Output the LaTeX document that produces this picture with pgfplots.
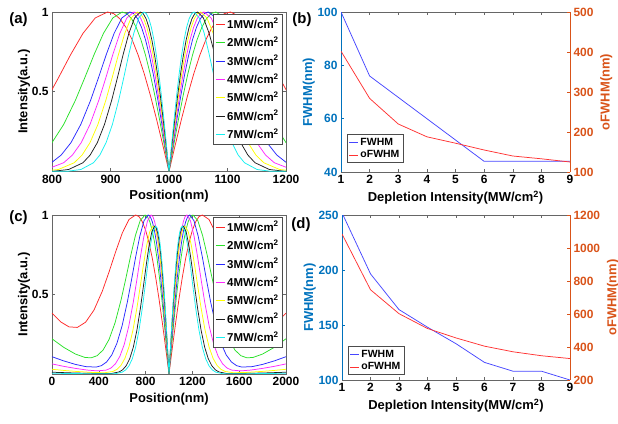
\documentclass[border=0pt]{standalone}
\usepackage{fontspec}
\setmainfont{Liberation Sans}
\usepackage{pgfplots}
\usepackage{pgfplotstable}
\pgfplotsset{compat=1.18}
\definecolor{mblue}{RGB}{0,114,189}
\definecolor{morange}{RGB}{217,83,25}
\definecolor{cR}{RGB}{255,40,40}
\definecolor{cG}{RGB}{40,225,40}
\definecolor{cB}{RGB}{40,40,255}
\definecolor{cM}{RGB}{255,40,255}
\definecolor{cY}{RGB}{255,255,0}
\definecolor{cK}{RGB}{30,30,30}
\definecolor{cC}{RGB}{20,240,240}
\definecolor{lB}{RGB}{70,70,255}
\definecolor{lR}{RGB}{255,50,50}
\pgfplotsset{
  base/.style={scale only axis, anchor=south west,
    axis line style={black!60, line width=0.6pt},
    tick style={black!60, line width=0.5pt},
    major tick length=3bp, tick align=inside,
    tick label style={font=\fontsize{12}{12}\selectfont\bfseries},
    label style={font=\fontsize{13}{13}\selectfont\bfseries},
    /pgf/number format/assume math mode=true,
    /pgf/number format/1000 sep={},
    legend cell align=left,
    legend style={font=\fontsize{10.5}{11}\selectfont\bfseries, draw=black!70, line width=0.6pt, inner sep=1.5pt, row sep=0pt},
    legend image code/.code={\draw[mark repeat=2,mark phase=2,##1] plot coordinates {(0bp,0bp) (9bp,0bp)};},
    every axis plot/.append style={line width=0.75pt},
  },
  pa/.style={base, ymin=0, ymax=1, ytick={0.5,1}, yticklabels={0.5,1},
    ylabel={Intensity(a.u.)}, xlabel={Position(nm)}, ylabel shift=-5bp,
    legend style={at={(0.987,0.987)}, anchor=north east,
      font=\fontsize{11.5}{12}\selectfont\bfseries, row sep=3pt, inner sep=2pt}},
}
\pgfplotstableread{
y R G B M Y K C
0.0000 475 600 665 700 730 755 785
0.0022 580 680 732 760 784 804 828
0.0126 632.5 720 765.5 790 811 828.5 849.5
0.0550 685 760 799 820 838 853 871
0.1033 711.25 780 815.75 835 851.5 865.25 881.75
0.1811 737.5 800 832.5 850 865 877.5 892.5
0.2952 763.75 820 849.25 865 878.5 889.75 903.25
0.4463 790 840 866 880 892 902 914
0.5873 811 856 879.4 892 902.8 911.8 922.6
0.7335 832 872 892.8 904 913.6 921.6 931.2
0.8663 853 888 906.2 916 924.4 931.4 939.8
0.9630 874 904 919.6 928 935.2 941.2 948.4
1.0000 895 920 933 940 946 951 957
0.9897 905.5 928 939.7 946 951.4 955.9 961.3
0.9577 916 936 946.4 952 956.8 960.8 965.6
0.9033 926.5 944 953.1 958 962.2 965.7 969.9
0.8263 937 952 959.8 964 967.6 970.6 974.2
0.7275 947.5 960 966.5 970 973 975.5 978.5
0.6088 958 968 973.2 976 978.4 980.4 982.8
0.4729 968.5 976 979.9 982 983.8 985.3 987.1
0.3232 979 984 986.6 988 989.2 990.2 991.4
0.1640 989.5 992 993.3 994 994.6 995.1 995.7
0 1000 1000 1000 1000 1000 1000 1000
0.1640 1010.5 1008 1006.7 1006 1005.4 1004.9 1004.3
0.3232 1021 1016 1013.4 1012 1010.8 1009.8 1008.6
0.4729 1031.5 1024 1020.1 1018 1016.2 1014.7 1012.9
0.6088 1042 1032 1026.8 1024 1021.6 1019.6 1017.2
0.7275 1052.5 1040 1033.5 1030 1027 1024.5 1021.5
0.8263 1063 1048 1040.2 1036 1032.4 1029.4 1025.8
0.9033 1073.5 1056 1046.9 1042 1037.8 1034.3 1030.1
0.9577 1084 1064 1053.6 1048 1043.2 1039.2 1034.4
0.9897 1094.5 1072 1060.3 1054 1048.6 1044.1 1038.7
1.0000 1105 1080 1067 1060 1054 1049 1043
0.9630 1126 1096 1080.4 1072 1064.8 1058.8 1051.6
0.8663 1147 1112 1093.8 1084 1075.6 1068.6 1060.2
0.7335 1168 1128 1107.2 1096 1086.4 1078.4 1068.8
0.5873 1189 1144 1120.6 1108 1097.2 1088.2 1077.4
0.4463 1210 1160 1134 1120 1108 1098 1086
0.2952 1236.25 1180 1150.75 1135 1121.5 1110.25 1096.75
0.1811 1262.5 1200 1167.5 1150 1135 1122.5 1107.5
0.1033 1288.75 1220 1184.25 1165 1148.5 1134.75 1118.25
0.0550 1315 1240 1201 1180 1162 1147 1129
0.0126 1367.5 1280 1234.5 1210 1189 1171.5 1150.5
0.0022 1420 1320 1268 1240 1216 1196 1172
0.0000 1525 1400 1335 1300 1270 1245 1215
}\tblA
\pgfplotstableread{
x fwhm ofwhm
1 100 402
2 76 284
3 68 220
4 60 188
5 52 172
6 44 155
7 44 140
8 44 133
9 44 125
}\tblB
\pgfplotstableread{
x fwhm ofwhm
1 252 1085
2 196.5 747
3 164 602
4 148 512
5 133 455
6 116 405
7 108 371
8 108 347
9 100 330
}\tblD
\begin{document}
\begin{tikzpicture}
\path[use as bounding box] (0,0) rectangle (618bp,424bp);
% (a)
\begin{axis}[pa, at={(52bp,252.5bp)}, width=234bp, height=159.5bp,
  xmin=800, xmax=1200, xtick={800,900,1000,1100,1200}]
\addplot[cR] table[x=R,y=y]{\tblA};
\addplot[cG] table[x=G,y=y]{\tblA};
\addplot[cB] table[x=B,y=y]{\tblA};
\addplot[cM] table[x=M,y=y]{\tblA};
\addplot[cY] table[x=Y,y=y]{\tblA};
\addplot[cK] table[x=K,y=y]{\tblA};
\addplot[cC] table[x=C,y=y]{\tblA};
\legend{1MW/cm\textsuperscript{2},2MW/cm\textsuperscript{2},3MW/cm\textsuperscript{2},4MW/cm\textsuperscript{2},5MW/cm\textsuperscript{2},6MW/cm\textsuperscript{2},7MW/cm\textsuperscript{2}}
\end{axis}
% (c)
\begin{axis}[pa, at={(52bp,50bp)}, width=234bp, height=159bp,
  xmin=0, xmax=2000, xtick={0,400,800,1200,1600,2000}]
\addplot[cR] coordinates {(0,0.3826)(73.75,0.3280)(145,0.2965)(216.25,0.2929)(287.5,0.3259)(358.75,0.4018)(430,0.5209)(487,0.6405)(544,0.7688)(601,0.8869)(658,0.9719)(715,1)(743.5,0.9897)(772,0.9577)(800.5,0.9033)(829,0.8263)(857.5,0.7275)(886,0.6088)(914.5,0.4729)(943,0.3232)(971.5,0.164)(1000,0)(1028.5,0.164)(1057,0.3232)(1085.5,0.4729)(1114,0.6088)(1142.5,0.7275)(1171,0.8263)(1199.5,0.9033)(1228,0.9577)(1256.5,0.9897)(1285,1)(1342,0.9719)(1399,0.8869)(1456,0.7688)(1513,0.6405)(1570,0.5209)(1641.25,0.4018)(1712.5,0.3259)(1783.75,0.2929)(1855,0.2965)(1926.25,0.3280)(2000,0.3826)};
\addplot[cG] coordinates {(0,0.2214)(100,0.1677)(200,0.1255)(282.5,0.1039)(335,0.1019)(385,0.1149)(436.25,0.1504)(487.5,0.2170)(538.75,0.3216)(590,0.4648)(631,0.6005)(672,0.7423)(713,0.8714)(754,0.9652)(795,1)(815.5,0.9897)(836,0.9577)(856.5,0.9033)(877,0.8263)(897.5,0.7275)(918,0.6088)(938.5,0.4729)(959,0.3232)(979.5,0.164)(1000,0)(1020.5,0.164)(1041,0.3232)(1061.5,0.4729)(1082,0.6088)(1102.5,0.7275)(1123,0.8263)(1143.5,0.9033)(1164,0.9577)(1184.5,0.9897)(1205,1)(1246,0.9652)(1287,0.8714)(1328,0.7423)(1369,0.6005)(1410,0.4648)(1461.25,0.3216)(1512.5,0.2170)(1563.75,0.1504)(1615,0.1149)(1665,0.1019)(1717.5,0.1039)(1800,0.1255)(1900,0.1677)(2000,0.2214)};
\addplot[cB] coordinates {(0,0.1088)(100,0.0824)(200,0.0605)(288,0.0465)(377,0.0435)(422,0.0524)(466,0.0753)(510.5,0.1192)(555,0.1933)(599.5,0.3042)(644,0.4526)(679.6,0.5918)(715.2,0.7365)(750.8,0.868)(786.4,0.9637)(822,1)(839.8,0.9897)(857.6,0.9577)(875.4,0.9033)(893.2,0.8263)(911,0.7275)(928.8,0.6088)(946.6,0.4729)(964.4,0.3232)(982.2,0.164)(1000,0)(1017.8,0.164)(1035.6,0.3232)(1053.4,0.4729)(1071.2,0.6088)(1089,0.7275)(1106.8,0.8263)(1124.6,0.9033)(1142.4,0.9577)(1160.2,0.9897)(1178,1)(1213.6,0.9637)(1249.2,0.868)(1284.8,0.7365)(1320.4,0.5918)(1356,0.4526)(1400.5,0.3042)(1445,0.1933)(1489.5,0.1192)(1534,0.0753)(1578,0.0524)(1623,0.0435)(1712,0.0465)(1800,0.0605)(1900,0.0824)(2000,0.1088)};
\addplot[cM] coordinates {(0,0.0635)(100,0.0482)(200,0.0353)(300,0.0248)(388,0.0196)(464.5,0.0247)(503,0.0371)(541,0.0630)(579.25,0.1096)(617.5,0.1859)(655.75,0.2987)(694,0.4488)(724.6,0.5891)(755.2,0.7347)(785.8,0.867)(816.4,0.9633)(847,1)(862.3,0.9897)(877.6,0.9577)(892.9,0.9033)(908.2,0.8263)(923.5,0.7275)(938.8,0.6088)(954.1,0.4729)(969.4,0.3232)(984.7,0.164)(1000,0)(1015.3,0.164)(1030.6,0.3232)(1045.9,0.4729)(1061.2,0.6088)(1076.5,0.7275)(1091.8,0.8263)(1107.1,0.9033)(1122.4,0.9577)(1137.7,0.9897)(1153,1)(1183.6,0.9633)(1214.2,0.867)(1244.8,0.7347)(1275.4,0.5891)(1306,0.4488)(1344.25,0.2987)(1382.5,0.1859)(1420.75,0.1096)(1459,0.0630)(1497,0.0371)(1535.5,0.0247)(1612,0.0196)(1700,0.0248)(1800,0.0353)(1900,0.0482)(2000,0.0635)};
\addplot[cY] coordinates {(0,0.0296)(100,0.0225)(200,0.0165)(350,0.0095)(452,0.0081)(520.5,0.016)(555,0.0287)(589,0.0539)(623.25,0.0983)(657.5,0.1701)(691.75,0.2757)(726,0.4159)(753.4,0.5468)(780.8,0.6826)(808.2,0.8057)(835.6,0.8956)(863,0.93)(876.7,0.9204)(890.4,0.8907)(904.1,0.8401)(917.8,0.7685)(931.5,0.6766)(945.2,0.5662)(958.9,0.4398)(972.6,0.3006)(986.3,0.1525)(1000,0)(1013.7,0.1525)(1027.4,0.3006)(1041.1,0.4398)(1054.8,0.5662)(1068.5,0.6766)(1082.2,0.7685)(1095.9,0.8401)(1109.6,0.8907)(1123.3,0.9204)(1137,0.93)(1164.4,0.8956)(1191.8,0.8057)(1219.2,0.6826)(1246.6,0.5468)(1274,0.4159)(1308.25,0.2757)(1342.5,0.1701)(1376.75,0.0983)(1411,0.0539)(1445,0.0287)(1479.5,0.016)(1548,0.0081)(1650,0.0095)(1800,0.0165)(1900,0.0225)(2000,0.0296)};
\addplot[cK] coordinates {(0,0.0111)(200,0.0062)(400,0.0029)(512,0.0037)(573,0.0129)(603.5,0.0262)(634,0.0519)(664.5,0.0966)(695,0.1685)(725.5,0.2745)(756,0.4151)(780.4,0.5462)(804.8,0.6822)(829.2,0.8057)(853.6,0.8956)(878,0.93)(890.2,0.9204)(902.4,0.8907)(914.6,0.8401)(926.8,0.7685)(939,0.6766)(951.2,0.5662)(963.4,0.4398)(975.6,0.3006)(987.8,0.1525)(1000,0)(1012.2,0.1525)(1024.4,0.3006)(1036.6,0.4398)(1048.8,0.5662)(1061,0.6766)(1073.2,0.7685)(1085.4,0.8401)(1097.6,0.8907)(1109.8,0.9204)(1122,0.93)(1146.4,0.8956)(1170.8,0.8057)(1195.2,0.6822)(1219.6,0.5462)(1244,0.4151)(1274.5,0.2745)(1305,0.1685)(1335.5,0.0966)(1366,0.0519)(1396.5,0.0262)(1427,0.0129)(1488,0.0037)(1600,0.0029)(1800,0.0062)(2000,0.0111)};
\addplot[cC] coordinates {(0,0.0046)(400,0.0012)(544,0.0022)(601,0.0119)(629.5,0.0256)(658,0.0512)(686.5,0.0961)(715,0.1684)(743.5,0.2745)(772,0.4151)(794.8,0.5462)(817.6,0.6822)(840.4,0.8057)(863.2,0.8956)(886,0.93)(897.4,0.9204)(908.8,0.8907)(920.2,0.8401)(931.6,0.7685)(943,0.6766)(954.4,0.5662)(965.8,0.4398)(977.2,0.3006)(988.6,0.1525)(1000,0)(1011.4,0.1525)(1022.8,0.3006)(1034.2,0.4398)(1045.6,0.5662)(1057,0.6766)(1068.4,0.7685)(1079.8,0.8401)(1091.2,0.8907)(1102.6,0.9204)(1114,0.93)(1136.8,0.8956)(1159.6,0.8057)(1182.4,0.6822)(1205.2,0.5462)(1228,0.4151)(1256.5,0.2745)(1285,0.1684)(1313.5,0.0961)(1342,0.0512)(1370.5,0.0256)(1399,0.0119)(1456,0.0022)(1600,0.0012)(2000,0.0046)};
\legend{1MW/cm\textsuperscript{2},2MW/cm\textsuperscript{2},3MW/cm\textsuperscript{2},4MW/cm\textsuperscript{2},5MW/cm\textsuperscript{2},6MW/cm\textsuperscript{2},7MW/cm\textsuperscript{2}}
\end{axis}
% (b) left
\begin{axis}[base, at={(341bp,252bp)}, width=229bp, height=160bp,
  xmin=1, xmax=9, xtick={1,...,9}, ymin=40, ymax=100, ytick={40,60,80,100},
  axis y line*=left, axis x line*=box,
  y axis line style={mblue}, ytick style={mblue}, yticklabel style={mblue},
  ylabel style={mblue}, ylabel={FWHM(nm)}, ylabel shift=-4bp,
  xlabel={Depletion Intensity(MW/cm\textsuperscript{2})}]
\addplot[lB] table[x=x,y=fwhm]{\tblB};
\end{axis}
\begin{axis}[base, at={(341bp,252bp)}, width=229bp, height=160bp,
  xmin=1, xmax=9, ymin=100, ymax=500, ytick={100,200,300,400,500},
  axis y line*=right, axis x line=none,
  y axis line style={morange}, ytick style={morange}, yticklabel style={morange},
  ylabel style={morange}, ylabel={oFWHM(nm)},
  legend style={at={(0.026,0.056)}, anchor=south west}]
\addlegendimage{lB}
\addplot[lR] table[x=x,y=ofwhm]{\tblB};
\legend{FWHM,oFWHM}
\end{axis}
% (d) left
\begin{axis}[base, at={(342bp,44bp)}, width=228bp, height=165bp,
  xmin=1, xmax=9, xtick={1,...,9}, ymin=100, ymax=250, ytick={100,150,200,250},
  axis y line*=left, axis x line*=box,
  y axis line style={mblue}, ytick style={mblue}, yticklabel style={mblue},
  ylabel style={mblue}, ylabel={FWHM(nm)}, ylabel shift=-4bp,
  xlabel={Depletion Intensity(MW/cm\textsuperscript{2})}]
\addplot[lB] table[x=x,y=fwhm]{\tblD};
\end{axis}
\begin{axis}[base, at={(342bp,44bp)}, width=228bp, height=165bp,
  xmin=1, xmax=9, ymin=200, ymax=1200, ytick={200,400,600,800,1000,1200},
  axis y line*=right, axis x line=none,
  y axis line style={morange}, ytick style={morange}, yticklabel style={morange},
  ylabel style={morange}, ylabel={oFWHM(nm)},
  legend style={at={(0.026,0.03)}, anchor=south west}]
\addlegendimage{lB}
\addplot[lR] table[x=x,y=ofwhm]{\tblD};
\legend{FWHM,oFWHM}
\end{axis}
\node[font=\fontsize{15}{15}\selectfont\bfseries] at (18.5bp,404bp) {(a)};
\node[font=\fontsize{15}{15}\selectfont\bfseries] at (302bp,404bp) {(b)};
\node[font=\fontsize{15}{15}\selectfont\bfseries] at (18.5bp,206bp) {(c)};
\node[font=\fontsize{15}{15}\selectfont\bfseries] at (301bp,199.5bp) {(d)};
\end{tikzpicture}
\end{document}
